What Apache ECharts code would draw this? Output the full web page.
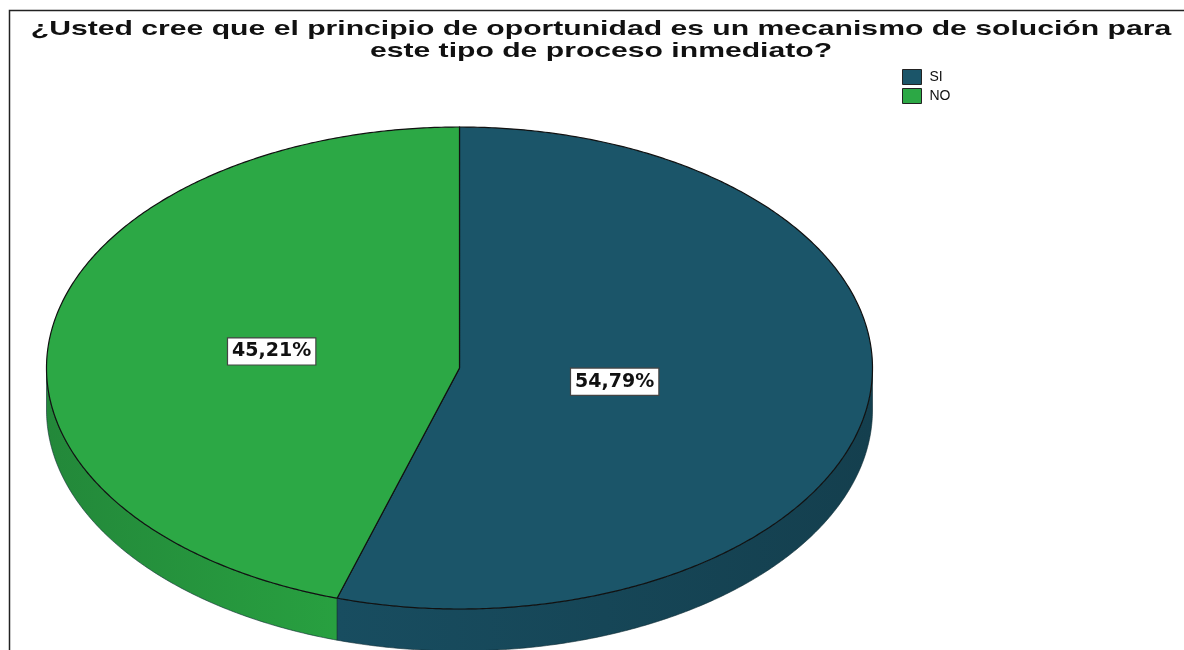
<!DOCTYPE html>
<html>
<head>
<meta charset="utf-8">
<script src="https://cdn.jsdelivr.net/npm/echarts@6/dist/echarts.min.js"></script>
<style>
html,body{margin:0;padding:0;background:#fff;}
#chart{width:1184px;height:650px;}
</style>
</head>
<body>
<div id="chart"></div>
<script>
// ---- data ----
const titleLines = ['¿Usted cree que el principio de oportunidad es un mecanismo de solución para', 'este tipo de proceso inmediato?'];
const categories = ['SI', 'NO'];
const values = [54.79, 45.21];
const labelTexts = ['54,79%', '45,21%'];

// ---- style ----
const topColors = ['#1b5569', '#2ca845'];
const sideColorsL = ['#184d60', '#23883a'];
const sideColorsR = ['#143f4e', '#28a040'];
const geo = { cx: 459.5, cy: 368, rx: 413, ry: 241, depth: 42 };
const labelRadius = [0.38, 0.46];

const total = values.reduce((a, b) => a + b, 0);

function pt(theta, k, dy) {
  return [geo.cx + geo.rx * k * Math.sin(theta), geo.cy - geo.ry * k * Math.cos(theta) + (dy || 0)];
}
function arc(a0, a1, k, dy) {
  const pts = [];
  const n = Math.max(2, Math.ceil(Math.abs(a1 - a0) / (Math.PI / 360)));
  for (let i = 0; i <= n; i++) pts.push(pt(a0 + (a1 - a0) * i / n, k, dy));
  return pts;
}

function makeRender(idx) {
  return function (params, api) {
    let before = 0;
    for (let j = 0; j < idx; j++) before += values[j];
    const v = api.value(0);
    const start = before / total * Math.PI * 2;
    const end = (before + v) / total * Math.PI * 2;
    const children = [];
    const a0 = Math.max(start, Math.PI / 2), a1 = Math.min(end, Math.PI * 1.5);
    if (a0 < a1) {
      const up = arc(a0, a1, 1, 0);
      const down = arc(a1, a0, 1, geo.depth);
      children.push({
        type: 'polygon',
        shape: { points: up.concat(down) },
        style: {
          fill: new echarts.graphic.LinearGradient(0, 0, 1, 0, [
            { offset: 0, color: sideColorsL[idx] },
            { offset: 1, color: sideColorsR[idx] }
          ]),
          stroke: '#0e2a33', lineWidth: 0.6
        }
      });
    }
    const topPts = [[geo.cx, geo.cy]].concat(arc(start, end, 1, 0));
    children.push({
      type: 'polygon',
      shape: { points: topPts },
      style: { fill: topColors[idx], stroke: '#111', lineWidth: 1.2 }
    });
    const mid = (start + end) / 2;
    const lp = pt(mid, labelRadius[idx], 0);
    children.push({
      type: 'text',
      x: lp[0], y: lp[1],
      style: {
        text: labelTexts[idx],
        fill: '#111',
        font: 'bold 19px "DejaVu Sans"',
        align: 'center', verticalAlign: 'middle',
        backgroundColor: '#fff',
        borderColor: '#444', borderWidth: 1.2,
        padding: [4, 4, 3, 4]
      },
      z2: 10
    });
    return { type: 'group', children: children };
  };
}

const chart = echarts.init(document.getElementById('chart'), null, { renderer: 'canvas' });
chart.setOption({
  animation: false,
  backgroundColor: '#fff',
  legend: {
    orient: 'vertical', left: 902, top: 69, padding: 0,
    itemWidth: 19, itemHeight: 15, itemGap: 3,
    icon: 'rect',
    data: categories,
    itemStyle: { borderColor: '#222', borderWidth: 1 },
    textStyle: { fontFamily: 'Liberation Sans', fontSize: 14, color: '#111', padding: [0, 0, 0, 3] }
  },
  graphic: [
    { type: 'polyline', shape: { points: [[9.5, 650], [9.5, 10.5], [1184, 10.5]] }, style: { stroke: '#222', lineWidth: 1.5, fill: null }, z: 100 },
    {
      type: 'text', x: 601, y: 18, scaleX: 1.435,
      style: {
        text: titleLines.join('\n'),
        font: 'bold 21px "Liberation Sans"', fill: '#111',
        align: 'center', verticalAlign: 'top', lineHeight: 22
      },
      z: 100
    }
  ],
  series: categories.map((name, i) => ({
    type: 'custom',
    name: name,
    coordinateSystem: 'none',
    itemStyle: { color: topColors[i] },
    renderItem: makeRender(i),
    data: [[values[i]]],
    z: 2
  }))
});
</script>
</body>
</html>
